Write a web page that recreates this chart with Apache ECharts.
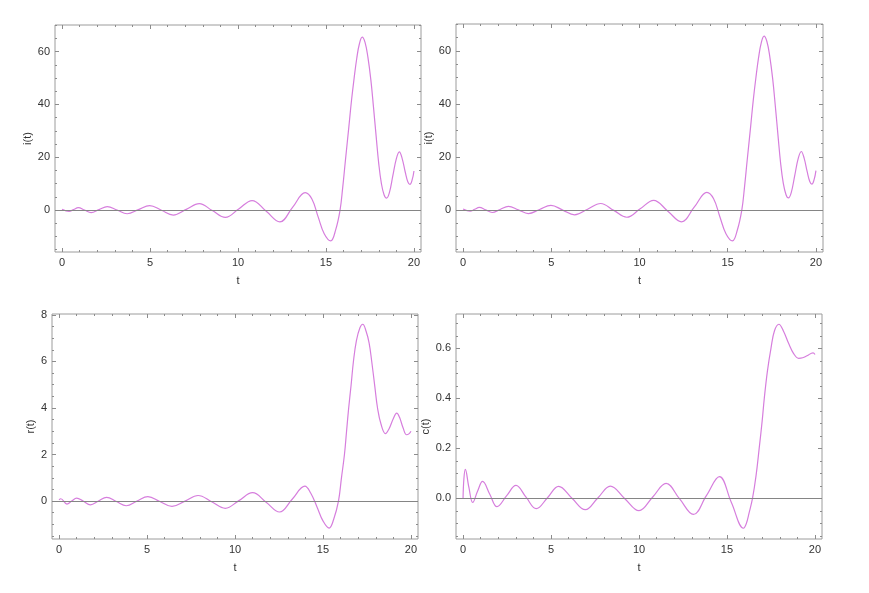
<!DOCTYPE html>
<html>
<head>
<meta charset="utf-8">
<title>i(t), r(t), c(t)</title>
<script src="https://cdn.jsdelivr.net/npm/echarts@6/dist/echarts.min.js"></script>
<style>
  html, body { margin: 0; padding: 0; background: #ffffff; }
  #chart { width: 869px; height: 593px; }
</style>
</head>
<body>
<div id="chart"></div>
<script>
// ── Data (t, value) ───────────────────────────────────────────────────────

// i(t) – same curve is drawn in both top panels
var iT = [0, 0.4, 0.66, 0.92, 1.28, 1.65, 2.1, 2.57, 3.13, 3.7, 4.34, 4.98,
  5.65, 6.32, 7.06, 7.8, 8.54, 9.28, 10.04, 10.8, 11.59, 12.38, 13.1, 13.82,
  14.2, 14.55, 14.9, 15.27, 15.55, 15.8, 15.95, 16.1, 16.3, 16.45, 16.6, 16.75,
  16.9, 17.06, 17.22, 17.38, 17.55, 17.7, 17.85, 18.0, 18.15, 18.3, 18.44,
  18.6, 18.8, 19.0, 19.17, 19.33, 19.5, 19.65, 19.77, 19.9, 20.0];
var iV = [0.3, -0.5, 0.2, 0.9, 0, -1.0, 0.15, 1.3, 0, -1.4, 0.15, 1.7,
  -0.1, -1.9, 0.25, 2.4, -0.2, -2.8, 0.4, 3.6, -0.4, -4.5, 1.0, 6.6,
  4.2, -2.5, -9.0, -11.7, -7.5, 0, 8.5, 18.5, 31.5, 41.5, 50.0, 57.5,
  63.0, 65.5, 63.5, 58.0, 49.3, 39.0, 28.0, 17.5, 10.0, 5.8, 4.5,
  6.5, 13.0, 19.5, 22.0, 19.5, 14.5, 10.7, 9.7, 11.5, 14.8];

// r(t)
var rT = [0, 0.1, 0.45, 0.72, 1.0, 1.39, 1.78, 2.24, 2.7, 3.26, 3.82, 4.43,
  5.05, 5.73, 6.42, 7.16, 7.9, 8.67, 9.45, 10.22, 11.0, 11.77, 12.53, 13.25,
  13.97, 14.3, 14.66, 15.0, 15.35, 15.6, 15.88, 16.05, 16.22, 16.34, 16.46,
  16.6, 16.73, 16.9, 17.1, 17.26, 17.45, 17.62, 17.77, 17.95, 18.1, 18.3,
  18.55, 18.75, 19.0, 19.19, 19.35, 19.55, 19.75, 19.9, 20.0];
var rV = [0.05, 0.1, -0.13, 0, 0.13, -0.01, -0.16, 0, 0.16, -0.02, -0.2, 0,
  0.19, -0.02, -0.23, 0, 0.24, -0.03, -0.31, 0.02, 0.36, -0.05, -0.47, 0.08,
  0.64, 0.35, -0.25, -0.85, -1.16, -0.8, 0, 1.0, 2.0, 3.0, 4.0,
  5.0, 6.0, 6.9, 7.45, 7.6, 7.3, 6.8, 6.0, 4.9, 4.0, 3.3,
  2.9, 3.1, 3.55, 3.78, 3.6, 3.15, 2.85, 2.9, 3.0];

// c(t)
var cT = [0, 0.05, 0.13, 0.33, 0.55, 0.83, 1.11, 1.52, 1.93, 2.47, 3.01, 3.58,
  4.16, 4.8, 5.43, 6.19, 6.95, 7.66, 8.37, 9.18, 10.0, 10.77, 11.54, 12.31,
  13.09, 13.83, 14.57, 15.25, 15.94, 16.1, 16.25, 16.45, 16.65, 16.83, 17.0,
  17.12, 17.3, 17.5, 17.7, 17.95, 18.2, 18.5, 18.78, 19.07, 19.3, 19.55,
  19.89, 20.0];
var cV = [0, 0.08, 0.116, 0.045, -0.016, 0.03, 0.068, 0.017, -0.033, 0.01, 0.052, 0.005,
  -0.041, 0.003, 0.048, 0.001, -0.045, 0.002, 0.049, 0.0, -0.049, 0.005, 0.06, -0.002,
  -0.064, 0.011, 0.087, -0.016, -0.119, -0.1, -0.06, 0.0, 0.09, 0.2, 0.31,
  0.4, 0.51, 0.6, 0.67, 0.696, 0.67, 0.62, 0.58, 0.56, 0.562, 0.57,
  0.582, 0.575];

// ── Panel layout ──────────────────────────────────────────────────────────

function steps(from, to, step) {
  var out = [];
  var n = Math.round((to - from) / step);
  for (var k = 0; k <= n; k++) out.push(+(from + k * step).toFixed(4));
  return out;
}

function zip(ts, vs) {
  return ts.map(function (t, k) { return [t, vs[k]]; });
}

var xMajor = [0, 5, 10, 15, 20];
var xMinor = steps(0, 20, 1);

var panels = [
  { box: { left: 55, top: 25, width: 366, height: 227 },
    yMin: -15.9, yMax: 70.1, yMajor: [0, 20, 40, 60], yMinor: steps(-15, 70, 5),
    yName: 'i(t)', fmt: function (v) { return String(v); }, data: zip(iT, iV) },
  { box: { left: 456, top: 24, width: 367, height: 228 },
    yMin: -15.9, yMax: 70.1, yMajor: [0, 20, 40, 60], yMinor: steps(-15, 70, 5),
    yName: 'i(t)', fmt: function (v) { return String(v); }, data: zip(iT, iV) },
  { box: { left: 52, top: 314, width: 366, height: 225 },
    yMin: -1.63, yMax: 8.04, yMajor: [0, 2, 4, 6, 8], yMinor: steps(-1.5, 8, 0.5),
    yName: 'r(t)', fmt: function (v) { return String(v); }, data: zip(rT, rV) },
  { box: { left: 456, top: 314, width: 366, height: 225 },
    yMin: -0.162, yMax: 0.737, yMajor: [0, 0.2, 0.4, 0.6], yMinor: steps(-0.15, 0.7, 0.05),
    yName: 'c(t)', fmt: function (v) { return v.toFixed(1); }, data: zip(cT, cV) }
];

var frameColor = '#9c9c9c';
var tickColor = '#8c8c8c';
var textColor = '#333333';
var lineColor = '#d67edd';
var font = 'Liberation Sans, Arial, sans-serif';

var grids = [], xAxes = [], yAxes = [], series = [];

panels.forEach(function (p, g) {
  grids.push({
    left: p.box.left, top: p.box.top, width: p.box.width, height: p.box.height,
    show: true, borderColor: frameColor, borderWidth: 1, backgroundColor: 'transparent'
  });

  // frame ticks: bottom/top, each with a major and a minor axis
  ['bottom', 'top'].forEach(function (pos) {
    [true, false].forEach(function (major) {
      var isMain = pos === 'bottom' && major;
      xAxes.push({
        type: 'value', gridIndex: g, position: pos, min: -0.4, max: 20.4,
        axisLine: { show: false, onZero: false },
        splitLine: { show: false },
        axisTick: {
          show: true, inside: true, length: major ? 4 : 2,
          customValues: major ? xMajor : xMinor,
          lineStyle: { color: tickColor, width: 1 }
        },
        axisLabel: {
          show: isMain, customValues: xMajor, margin: 5,
          color: textColor, fontFamily: font, fontSize: 11
        },
        name: isMain ? 't' : '',
        nameLocation: 'middle', nameGap: 23,
        nameTextStyle: { color: textColor, fontFamily: font, fontSize: 11 }
      });
    });
  });

  ['left', 'right'].forEach(function (pos) {
    [true, false].forEach(function (major) {
      var isMain = pos === 'left' && major;
      yAxes.push({
        type: 'value', gridIndex: g, position: pos, min: p.yMin, max: p.yMax,
        axisLine: { show: false, onZero: false },
        splitLine: { show: false },
        axisTick: {
          show: true, inside: true, length: major ? 4 : 2,
          customValues: major ? p.yMajor : p.yMinor,
          lineStyle: { color: tickColor, width: 1 }
        },
        axisLabel: {
          show: isMain, customValues: p.yMajor, margin: 5,
          color: textColor, fontFamily: font, fontSize: 11,
          formatter: p.fmt
        },
        name: isMain ? p.yName : '',
        nameLocation: 'middle', nameGap: 16, nameRotate: 90,
        nameTextStyle: { color: textColor, fontFamily: font, fontSize: 11 }
      });
    });
  });

  series.push({
    type: 'line',
    xAxisIndex: g * 4,
    yAxisIndex: g * 4,
    data: p.data,
    smooth: 0.4,
    symbol: 'none',
    silent: true,
    lineStyle: { color: lineColor, width: 1.2 },
    markLine: {
      silent: true,
      symbol: 'none',
      label: { show: false },
      lineStyle: { color: '#858585', width: 1, type: 'solid' },
      data: [{ yAxis: 0 }]
    },
    z: 3
  });
});

var chart = echarts.init(document.getElementById('chart'), null, { renderer: 'canvas' });
chart.setOption({
  backgroundColor: '#ffffff',
  animation: false,
  grid: grids,
  xAxis: xAxes,
  yAxis: yAxes,
  series: series
});
</script>
</body>
</html>
